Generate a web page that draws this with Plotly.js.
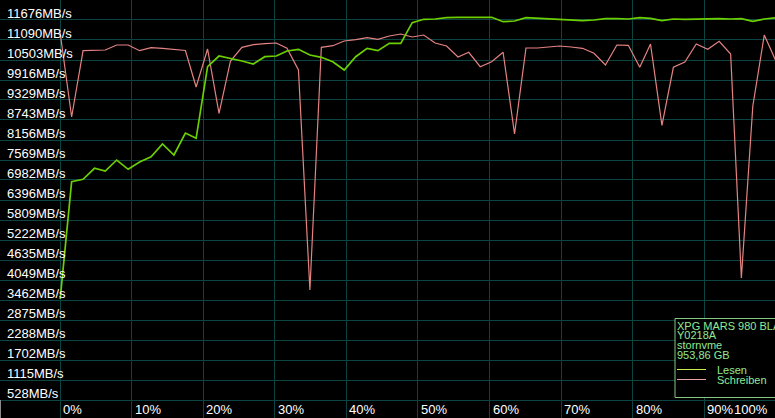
<!DOCTYPE html>
<html>
<head>
<meta charset="utf-8">
<script src="https://cdn.plot.ly/plotly-3.0.1.min.js"></script>
<style>html,body{margin:0;padding:0;background:#000;}#chart{width:775px;height:418px;}</style>
</head>
<body>
<div id="chart"></div>
<script>
// Position along the drive (percent)
const positions = [0,1.6,3.2,4.8,6.3,7.9,9.5,11.1,12.7,14.3,15.9,17.5,19.0,20.6,22.2,23.8,25.4,27.0,28.6,30.2,31.7,33.3,34.9,36.5,38.1,39.7,41.3,42.9,44.4,46.0,47.6,49.2,50.8,52.4,54.0,55.6,57.1,58.7,60.3,61.9,63.5,65.1,66.7,68.3,69.8,71.4,73.0,74.6,76.2,77.8,79.4,81.0,82.5,84.1,85.7,87.3,88.9,90.5,92.1,93.7,95.2,96.8,98.4,100];

// Lesen (MB/s)
const lesen = [2905,6346,6416,6739,6660,6982,6710,6924,7079,7452,7129,7774,7619,9719,10033,9966,9887,9799,10013,10033,10180,10230,10063,9995,9866,9623,10013,10259,10189,10406,10406,11010,11110,11119,11157,11168,11168,11168,11168,11039,11060,11157,11139,11139,11110,11098,11069,11089,11127,11127,11119,11157,11139,11069,11119,11110,11119,11139,11127,11119,11127,11051,11119,11157];

// Schreiben (MB/s)
const schreiben = [10708,8244,10189,10195,10209,10356,10356,10189,10277,10259,10224,10195,9124,10239,8352,9887,10288,10365,10394,10415,10259,9623,3169,10288,10335,10473,10511,10570,10523,10620,10679,10591,10649,10415,10327,10004,10142,9719,9866,10142,7745,10268,10268,10297,10327,10297,10259,10112,9769,10356,10347,9702,10385,8000,9702,9857,10385,10230,10464,10092,3521,8566,10649,9895];

// Y tick labels
const yTickValues = [11676,11090,10503,9916,9329,8743,8156,7569,6982,6396,5809,5222,4635,4049,3462,2875,2288,1702,1115,528];
const yTickLabels = yTickValues.map(v => v + 'MB/s');

// X tick labels
const xTickValues = [0,10,20,30,40,50,60,70,80,90,100];
const xTickLabels = ['0%','10%','20%','30%','40%','50%','60%','70%','80%','90%','100%'];

// Legend / drive info
const infoLines = ['XPG MARS 980 BLADE','Y0218A','stornvme','953,86 GB'];
const seriesNames = ['Lesen','Schreiben'];

const COL_READ = '#6ccf00';
const COL_WRITE = '#e58282';
const SW_READ = '#c6f04c';
const SW_WRITE = '#e6a4a4';
const GRID = '#0c4444';
const INFO = '#94e894';
const FONT = 'Liberation Sans, Arial, sans-serif';

const W = 775, H = 418;
const X_RANGE = [-8.41, 99.9];
const px = x => x / W;
const py = y => 1 - y / H;

const traces = [
  {x: positions, y: schreiben, type: 'scatter', mode: 'lines', name: seriesNames[1],
   line: {color: COL_WRITE, width: 1.2}, hoverinfo: 'skip'},
  {x: positions, y: lesen, type: 'scatter', mode: 'lines', name: seriesNames[0],
   line: {color: COL_READ, width: 1.7}, hoverinfo: 'skip'}
];

const bottomGridVal = -58.7;

const annotations = [];
// x-axis labels, left-aligned just right of each grid line; the last one is pulled inside the frame
xTickValues.forEach((v, i) => {
  const last = i === xTickValues.length - 1;
  annotations.push({
    xref: 'x', yref: 'paper', x: Math.min(v, X_RANGE[1]), y: py(409.5),
    xanchor: last ? 'right' : 'left', yanchor: 'middle', xshift: last ? -6 : 2,
    text: xTickLabels[i], showarrow: false, font: {family: FONT, size: 13, color: '#ffffff'}, borderpad: 0
  });
});
const infoY = [325.5, 335, 345, 354.5];
infoLines.forEach((t, i) => annotations.push({
  xref: 'paper', yref: 'paper', x: px(676), y: py(infoY[i]), xanchor: 'left', yanchor: 'middle',
  text: t, showarrow: false, font: {family: FONT, size: 11, color: INFO}, borderpad: 0
}));
const itemY = [370, 379.5];
seriesNames.forEach((t, i) => annotations.push({
  xref: 'paper', yref: 'paper', x: px(716), y: py(itemY[i]), xanchor: 'left', yanchor: 'middle',
  text: t, showarrow: false, font: {family: FONT, size: 11, color: INFO}, borderpad: 0
}));

const shapes = [
  {type: 'rect', xref: 'paper', yref: 'paper', x0: px(675), x1: px(800), y0: py(397.5), y1: py(318.5),
   fillcolor: '#000000', line: {color: '#84c884', width: 1}, layer: 'above'},
  {type: 'line', xref: 'paper', yref: 'paper', x0: px(677), x1: px(706), y0: py(369.5), y1: py(369.5),
   line: {color: SW_READ, width: 1}, layer: 'above'},
  {type: 'line', xref: 'paper', yref: 'paper', x0: px(677), x1: px(706), y0: py(379.5), y1: py(379.5),
   line: {color: SW_WRITE, width: 1}, layer: 'above'},
  {type: 'line', xref: 'paper', yref: 'paper', x0: px(0.5), x1: px(0.5), y0: py(400), y1: 0,
   line: {color: '#8a8a8a', width: 1}, layer: 'above'}
];

const layout = {
  width: W, height: H,
  margin: {l: 0, r: 0, t: 0, b: 0, pad: 0},
  paper_bgcolor: '#000000', plot_bgcolor: '#000000',
  showlegend: false,
  font: {family: FONT, size: 13, color: '#ffffff'},
  xaxis: {
    range: X_RANGE, tickmode: 'array', tickvals: xTickValues,
    showticklabels: false,
    showgrid: true, gridcolor: GRID, gridwidth: 1, zeroline: false, showline: false,
    ticks: '', fixedrange: true
  },
  yaxis: {
    range: [-586, 11676], tickmode: 'array',
    tickvals: yTickValues.concat([bottomGridVal]), ticktext: yTickLabels.concat(['']),
    showgrid: true, gridcolor: GRID, gridwidth: 1, zeroline: false, showline: false,
    ticks: '', ticklabelposition: 'inside bottom', ticklabelstandoff: 4, ticklabelshift: 4,
    ticklabeloverflow: 'allow',
    tickfont: {family: FONT, size: 13, color: '#ffffff'}, fixedrange: true
  },
  annotations: annotations,
  shapes: shapes
};

Plotly.newPlot('chart', traces, layout, {displayModeBar: false, staticPlot: true});
</script>
</body>
</html>
